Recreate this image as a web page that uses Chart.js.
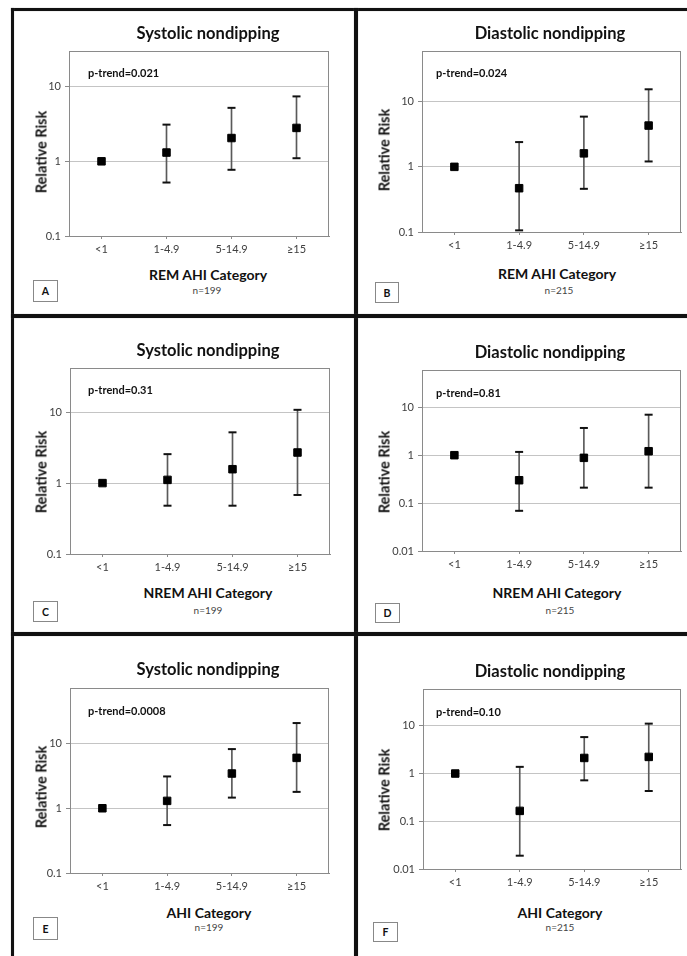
<!DOCTYPE html>
<html>
<head>
<meta charset="utf-8">
<script src="https://cdn.jsdelivr.net/npm/chart.js@4"></script>
<style>
  body { margin: 0; background: #fff; font-family: Lato, sans-serif; }
  #page { position: relative; width: 687px; height: 956px; overflow: hidden; background: #fff; }
  .rule { position: absolute; background: #111; box-shadow: 0 0 1px #777; }
  .chart { position: absolute; }
  .txt { position: absolute; transform: translate(-50%, -50%); white-space: nowrap; color: #111; }
  .title { font-weight: 700; font-size: 16.5px; }
  .xtitle { font-weight: 700; font-size: 14px; }
  .ytitle { font-weight: 700; font-size: 14.5px; transform: translate(-50%, -50%) rotate(-90deg); }
  .ptrend { position: absolute; transform: translateY(-50%); font-weight: 700; font-size: 11px; color: #111; white-space: nowrap; }
  .n { font-size: 10px; color: #444; }
  .letter { position: absolute; border: 1px solid #888; background: #fff; box-sizing: border-box;
    font-weight: 700; font-size: 10.5px; display: flex; align-items: center; justify-content: center; color: #111; }
</style>
</head>
<body>
<div id="page"></div>
<script>
// AHI categories on the x axis
const categories = ['<1', '1-4.9', '5-14.9', '≥15']
const ticksTwoDecades = [0.1, 1, 10]
const ticksThreeDecades = [0.01, 0.1, 1, 10]

// A: REM AHI, systolic
const remSysRR = [1, 1.31, 2.05, 2.8]
const remSysLo = [null, 0.52, 0.77, 1.1]
const remSysHi = [null, 3.1, 5.2, 7.4]

// B: REM AHI, diastolic
const remDiaRR = [1, 0.47, 1.61, 4.3]
const remDiaLo = [null, 0.106, 0.46, 1.21]
const remDiaHi = [null, 2.4, 5.9, 15.5]

// C: NREM AHI, systolic
const nremSysRR = [1, 1.11, 1.57, 2.7]
const nremSysLo = [null, 0.48, 0.48, 0.68]
const nremSysHi = [null, 2.56, 5.2, 10.8]

// D: NREM AHI, diastolic
const nremDiaRR = [1, 0.3, 0.88, 1.21]
const nremDiaLo = [null, 0.069, 0.21, 0.21]
const nremDiaHi = [null, 1.17, 3.7, 7.0]

// E: AHI, systolic
const ahiSysRR = [1, 1.3, 3.44, 6.0]
const ahiSysLo = [null, 0.55, 1.46, 1.79]
const ahiSysHi = [null, 3.1, 8.2, 20.7]

// F: AHI, diastolic
const ahiDiaRR = [1, 0.165, 2.12, 2.23]
const ahiDiaLo = [null, 0.019, 0.72, 0.43]
const ahiDiaHi = [null, 1.38, 5.8, 11.1]

Chart.defaults.font.family = 'Lato, sans-serif'
Chart.defaults.color = '#404040'

const page = document.getElementById('page')

// plot box = [left, top, width, height] of each chart area on the page
const panels = [
  { letter: 'A', title: 'Systolic nondipping', ptrend: 'p-trend=0.021', xtitle: 'REM AHI Category', n: 'n=199',
    rr: remSysRR, lo: remSysLo, hi: remSysHi, ticks: ticksTwoDecades, max: 30,
    box: [69, 51, 260, 185], t: [208, 33], pt: [88, 72], xt: [208, 274], nt: [207, 290], lb: [33, 280, 25, 22], yt: [41, 152] },
  { letter: 'B', title: 'Diastolic nondipping', ptrend: 'p-trend=0.024', xtitle: 'REM AHI Category', n: 'n=215',
    rr: remDiaRR, lo: remDiaLo, hi: remDiaHi, ticks: ticksTwoDecades, max: 60,
    box: [422, 51, 259, 181], t: [550, 33], pt: [436, 72], xt: [557, 273], nt: [559, 290], lb: [375, 282, 24, 21], yt: [384, 150] },
  { letter: 'C', title: 'Systolic nondipping', ptrend: 'p-trend=0.31', xtitle: 'NREM AHI Category', n: 'n=199',
    rr: nremSysRR, lo: nremSysLo, hi: nremSysHi, ticks: ticksTwoDecades, max: 42,
    box: [70, 368, 260, 186], t: [208, 350], pt: [88, 389], xt: [208, 592], nt: [208, 610], lb: [33, 601, 25, 21], yt: [41, 472] },
  { letter: 'D', title: 'Diastolic nondipping', ptrend: 'p-trend=0.81', xtitle: 'NREM AHI Category', n: 'n=215',
    rr: nremDiaRR, lo: nremDiaLo, hi: nremDiaHi, ticks: ticksThreeDecades, max: 60,
    box: [422, 370, 259, 181], t: [550, 352], pt: [436, 392], xt: [557, 592], nt: [560, 610], lb: [375, 603, 25, 20], yt: [384, 472] },
  { letter: 'E', title: 'Systolic nondipping', ptrend: 'p-trend=0.0008', xtitle: 'AHI Category', n: 'n=199',
    rr: ahiSysRR, lo: ahiSysLo, hi: ahiSysHi, ticks: ticksTwoDecades, max: 72,
    box: [70, 688, 259, 185], t: [208, 669], pt: [88, 710], xt: [209, 912], nt: [209, 927], lb: [33, 917, 25, 23], yt: [41, 787] },
  { letter: 'F', title: 'Diastolic nondipping', ptrend: 'p-trend=0.10', xtitle: 'AHI Category', n: 'n=215',
    rr: ahiDiaRR, lo: ahiDiaLo, hi: ahiDiaHi, ticks: ticksThreeDecades, max: 59,
    box: [423, 689, 258, 180], t: [550, 671], pt: [436, 711], xt: [560, 912], nt: [560, 927], lb: [373, 922, 25, 20], yt: [384, 790] },
]

// frame lines between panels
const rules = [
  [11, 8, 676, 3],
  [11, 8, 3, 948],
  [354, 8, 4, 948],
  [11, 314, 676, 4],
  [11, 632, 676, 4],
]
rules.forEach(([x, y, w, h]) => {
  const d = document.createElement('div')
  d.className = 'rule'
  Object.assign(d.style, { left: x + 'px', top: y + 'px', width: w + 'px', height: h + 'px' })
  page.appendChild(d)
})

function addText(cls, text, x, y) {
  const d = document.createElement('div')
  d.className = cls
  d.textContent = text
  d.style.left = x + 'px'
  d.style.top = y + 'px'
  page.appendChild(d)
  return d
}

// grey box round the plot area, like the spreadsheet original
const plotBox = {
  id: 'plotBox',
  beforeDatasetsDraw(chart) {
    const { ctx, chartArea: a } = chart
    ctx.save()
    ctx.strokeStyle = '#8a8a8a'
    ctx.lineWidth = 1
    ctx.strokeRect(Math.round(a.left) + 0.5, Math.round(a.top) + 0.5, Math.round(a.width) - 1, Math.round(a.height))
    ctx.restore()
  },
}

const PAD_L = 50, PAD_T = 14, PAD_R = 8, PAD_B = 28

function renderPanel(p) {
  const [bx, by, bw, bh] = p.box
  const wrap = document.createElement('div')
  wrap.className = 'chart'
  wrap.style.left = bx - PAD_L + 'px'
  wrap.style.top = by - PAD_T + 'px'
  const canvas = document.createElement('canvas')
  canvas.width = bw + PAD_L + PAD_R
  canvas.height = bh + PAD_T + PAD_B
  wrap.appendChild(canvas)
  page.appendChild(wrap)

  const whiskers = p.lo.map((lo, i) => (lo == null ? null : [lo, p.hi[i]]))

  new Chart(canvas, {
    type: 'bar',
    data: {
      labels: categories,
      datasets: [
        {
          type: 'line',
          data: p.rr,
          showLine: false,
          pointStyle: 'rect',
          pointRadius: 5.3,
          backgroundColor: '#000',
          borderColor: '#000',
          borderWidth: 1,
          order: 0,
        },
        {
          type: 'line',
          data: p.hi,
          showLine: false,
          pointStyle: 'line',
          pointRadius: 4,
          borderColor: '#111',
          borderWidth: 2,
          order: 1,
        },
        {
          type: 'line',
          data: p.lo,
          showLine: false,
          pointStyle: 'line',
          pointRadius: 4,
          borderColor: '#111',
          borderWidth: 2,
          order: 1,
        },
        {
          type: 'bar',
          data: whiskers,
          barThickness: 1,
          backgroundColor: '#5a5a5a',
          order: 2,
        },
      ],
    },
    options: {
      responsive: false,
      animation: false,
      devicePixelRatio: 1,
      layout: { padding: { left: PAD_L - 40, top: PAD_T, right: PAD_R, bottom: PAD_B - 24 } },
      plugins: { legend: { display: false }, tooltip: { enabled: false } },
      scales: {
        x: {
          offset: true,
          grid: { offset: false, drawOnChartArea: false, tickLength: 3, color: '#8a8a8a' },
          border: { color: '#8a8a8a' },
          ticks: { font: { size: 11 }, padding: 4, color: '#404040' },
          afterFit: (scale) => { scale.height = 24 },
        },
        y: {
          type: 'logarithmic',
          min: p.ticks[0],
          max: p.max,
          grid: { color: '#c4c4c4', tickLength: 4, tickColor: '#8a8a8a' },
          border: { color: '#8a8a8a' },
          ticks: { font: { size: 11 }, padding: 4, color: '#404040', callback: (v) => String(v) },
          afterBuildTicks: (scale) => { scale.ticks = p.ticks.map((v) => ({ value: v })) },
          afterFit: (scale) => { scale.width = 40 },
        },
      },
    },
    plugins: [plotBox],
  })

  addText('txt title', p.title, p.t[0], p.t[1])
  addText('txt xtitle', p.xtitle, p.xt[0], p.xt[1])
  addText('txt ytitle', 'Relative Risk', p.yt[0], p.yt[1])
  addText('txt n', p.n, p.nt[0], p.nt[1])
  addText('ptrend', p.ptrend, p.pt[0], p.pt[1])
  const lb = addText('letter', p.letter, 0, 0)
  Object.assign(lb.style, { left: p.lb[0] + 'px', top: p.lb[1] + 'px', width: p.lb[2] + 'px', height: p.lb[3] + 'px' })
}

panels.forEach(renderPanel)
</script>
</body>
</html>
